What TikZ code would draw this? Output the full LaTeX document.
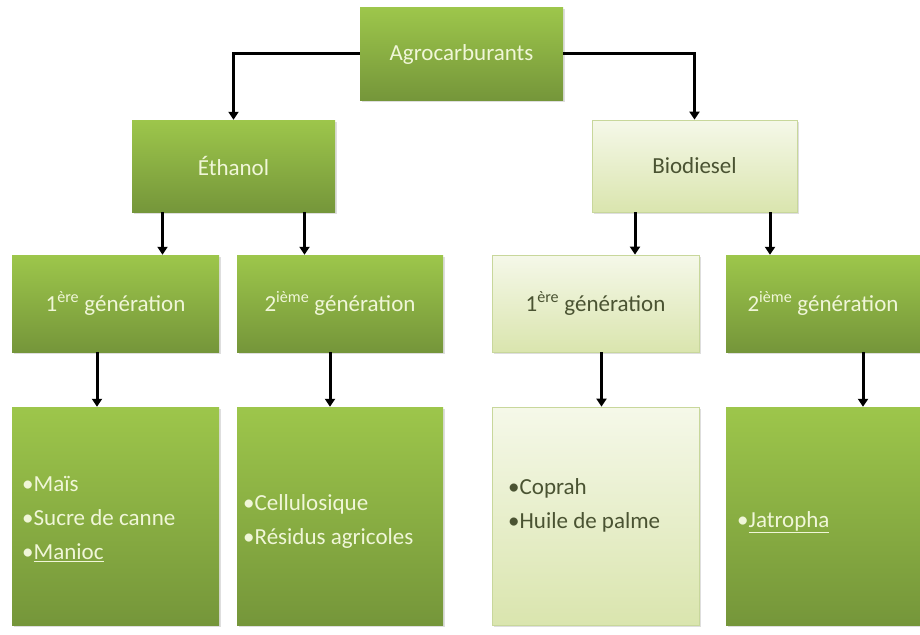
\documentclass[tikz,border=0pt]{standalone}
\usepackage{fontspec}
\setmainfont{Carlito}
\usetikzlibrary{arrows.meta,shadows}
\definecolor{gtop}{HTML}{9DC64B}
\definecolor{gbot}{HTML}{75963A}
\definecolor{ltop}{HTML}{F5F8E9}
\definecolor{lbot}{HTML}{DAE5AE}
\definecolor{lborder}{HTML}{C8D79B}
\definecolor{wtext}{HTML}{F0F6D8}
\definecolor{dtext}{HTML}{4A5332}
\begin{document}
\begin{tikzpicture}[x=1pt,y=-1pt,
  box/.style={rectangle, inner sep=0pt, font=\fontsize{23}{27}\selectfont,
    drop shadow={shadow xshift=1.5pt, shadow yshift=-1.5pt, fill=black!25}},
  darkbox/.style={box, top color=gtop, bottom color=gbot, text=wtext},
  lightbox/.style={box, top color=ltop, bottom color=lbot, draw=lborder, line width=0.8pt, text=dtext},
  arr/.style={draw=black, line width=3pt, -{Triangle[length=8pt,width=10pt]}},
  listtext/.style={anchor=west, align=left, inner sep=0pt, font=\fontsize{23}{34}\selectfont}
]
\useasboundingbox[fill=white] (0,0) rectangle (920,634);

% top
\node[darkbox, minimum width=203pt, minimum height=92pt] (agro) at (461.5,54) {Agrocarburants};
% second row
\node[darkbox, minimum width=203pt, minimum height=92pt] (eth) at (233.5,166) {Éthanol};
\node[lightbox, minimum width=205pt, minimum height=92pt] (bio) at (694.5,166) {Biodiesel};
% third row
\node[darkbox, minimum width=207pt, minimum height=97pt] (g1) at (115.5,303.5) {1\textsuperscript{ère} génération};
\node[darkbox, minimum width=206pt, minimum height=97pt] (g2) at (340,303.5) {2\textsuperscript{ième} génération};
\node[lightbox, minimum width=207pt, minimum height=97pt] (g3) at (595.5,303.5) {1\textsuperscript{ère} génération};
\node[darkbox, minimum width=194pt, minimum height=97pt] (g4) at (823,303.5) {2\textsuperscript{ième} génération};
% bottom row
\node[darkbox, minimum width=207pt, minimum height=218pt] (b1) at (115.5,516) {};
\node[darkbox, minimum width=206pt, minimum height=218pt] (b2) at (340,516) {};
\node[lightbox, minimum width=207pt, minimum height=218pt] (b3) at (595.5,516) {};
\node[darkbox, minimum width=194pt, minimum height=218pt] (b4) at (823,516) {};

\node[listtext, text=wtext] (t1) at (22,519) {•Maïs\\•Sucre de canne\\•\underline{Manioc}};
\node[listtext, text=wtext] (t2) at (243,521) {•Cellulosique\\•Résidus agricoles};
\node[listtext, text=dtext] (t3) at (508,505) {•Coprah\\•Huile de palme};
\node[listtext, text=wtext] (t4) at (737,522) {•\underline{Jatropha}};

% connectors
\draw[arr] (agro.west) -| (eth.north);
\draw[arr] (agro.east) -| (bio.north);
\draw[arr] ([xshift=-71pt]eth.south) -- ([xshift=-71pt]eth.south |- g1.north);
\draw[arr] ([xshift=71pt]eth.south) -- ([xshift=71pt]eth.south |- g2.north);
\draw[arr] ([xshift=-59.5pt]bio.south) -- ([xshift=-59.5pt]bio.south |- g3.north);
\draw[arr] ([xshift=75.5pt]bio.south) -- ([xshift=75.5pt]bio.south |- g4.north);
\draw[arr] ([xshift=-18.5pt]g1.south) -- ([xshift=-18.5pt]g1.south |- b1.north);
\draw[arr] ([xshift=-10pt]g2.south) -- ([xshift=-10pt]g2.south |- b2.north);
\draw[arr] ([xshift=6pt]g3.south) -- ([xshift=6pt]g3.south |- b3.north);
\draw[arr] ([xshift=40pt]g4.south) -- ([xshift=40pt]g4.south |- b4.north);
\end{tikzpicture}
\end{document}
